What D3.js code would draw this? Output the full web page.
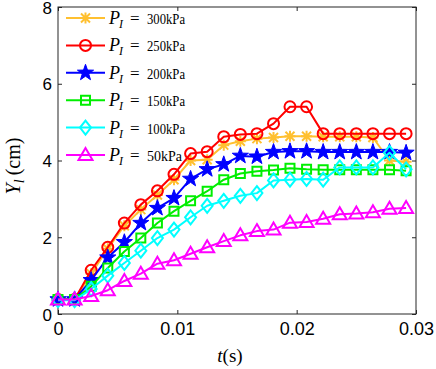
<!DOCTYPE html>
<html><head><meta charset="utf-8">
<script src="https://cdn.jsdelivr.net/npm/d3@7"></script>
<style>body{margin:0;background:#fff}svg{display:block}</style>
</head><body>
<svg id="c" width="436" height="369"></svg>
<script>
// ---- data ----
const tValues = [0, 0.00139, 0.00278, 0.00417, 0.00556, 0.00694, 0.00833, 0.00972, 0.01111, 0.0125, 0.01389,
  0.01528, 0.01667, 0.01806, 0.01944, 0.02083, 0.02222, 0.02361, 0.025, 0.02639, 0.02778, 0.02917];
const y300 = [0.38, 0.38, 1.05, 1.70, 2.30, 2.72, 3.10, 3.50, 4.00, 4.02, 4.40, 4.50, 4.57, 4.60, 4.63, 4.63, 4.62, 4.62, 4.62, 4.60, 4.00, 3.97];
const y250 = [0.38, 0.38, 1.14, 1.74, 2.37, 2.85, 3.21, 3.64, 4.18, 4.23, 4.62, 4.68, 4.70, 4.96, 5.40, 5.40, 4.70, 4.70, 4.70, 4.70, 4.70, 4.70];
const y200 = [0.38, 0.38, 0.88, 1.47, 1.87, 2.37, 2.76, 3.02, 3.52, 3.77, 3.90, 4.12, 4.10, 4.22, 4.24, 4.24, 4.22, 4.22, 4.22, 4.22, 4.22, 4.20];
const y150 = [0.38, 0.38, 0.72, 1.20, 1.63, 1.98, 2.37, 2.68, 2.95, 3.20, 3.50, 3.66, 3.72, 3.75, 3.80, 3.77, 3.76, 3.76, 3.76, 3.76, 3.76, 3.73];
const y100 = [0.36, 0.36, 0.65, 1.00, 1.33, 1.65, 1.98, 2.20, 2.52, 2.82, 2.95, 3.08, 3.15, 3.48, 3.50, 3.52, 3.50, 3.82, 3.82, 3.82, 4.20, 3.77];
const y50  = [0.38, 0.38, 0.47, 0.62, 0.86, 1.05, 1.31, 1.40, 1.57, 1.74, 1.90, 2.05, 2.16, 2.20, 2.38, 2.40, 2.48, 2.60, 2.62, 2.65, 2.74, 2.76];
const seriesLabels = ["300kPa", "250kPa", "200kPa", "150kPa", "100kPa", "50kPa"];
const seriesColors = ["#FFC030", "#FF0000", "#0000FF", "#00EE00", "#00FFFF", "#FF00FF"];
const seriesMarkers = ["asterisk", "circle", "star", "square", "diamond", "triangle"];
const xTicks = [0, 0.01, 0.02, 0.03];
const yTicks = [0, 2, 4, 6, 8];

const seriesData = [y300, y250, y200, y150, y100, y50];

const svg = d3.select("#c");
const L = 58, R = 416, T = 7, B = 314;
const x = d3.scaleLinear().domain([0, 0.03]).range([L, R]);
const y = d3.scaleLinear().domain([0, 8]).range([B, T]);

function markerPath(type) {
  switch (type) {
    case "asterisk": {
      const a = 4.5, d = 4.5;
      return `M${-d},${-d}L${d},${d}M${-d},${d}L${d},${-d}M0,${-a - 1}L0,${a + 1}M${-a - 1},0L${a + 1},0`;
    }
    case "circle": return "M-5.5,0A5.5,5.5 0 1,0 5.5,0A5.5,5.5 0 1,0 -5.5,0Z";
    case "square": return "M-4.5,-4.5H4.5V4.5H-4.5Z";
    case "diamond": return "M0,-7L5.5,0L0,7L-5.5,0Z";
    case "triangle": return "M0,-7L7,5L-7,5Z";
    case "star": {
      let p = "";
      for (let i = 0; i < 10; i++) {
        const r = i % 2 === 0 ? 8.5 : 3.4;
        const ang = -Math.PI / 2 + i * Math.PI / 5;
        p += (i === 0 ? "M" : "L") + (r * Math.cos(ang)).toFixed(2) + "," + (r * Math.sin(ang)).toFixed(2);
      }
      return p + "Z";
    }
  }
}

// axes frame
svg.append("rect").attr("x", L).attr("y", T).attr("width", R - L).attr("height", B - T)
  .attr("fill", "none").attr("stroke", "#262626").attr("stroke-width", 1);

// ticks (inward, on all sides)
const tickLen = 4;
const gx = svg.append("g").attr("transform", `translate(0,${B})`)
  .call(d3.axisBottom(x).tickValues(xTicks).tickSizeInner(-tickLen).tickSizeOuter(0).tickPadding(8)
    .tickFormat(d => d === 0 ? "0" : d3.format(".2f")(d)));
const gxt = svg.append("g").attr("transform", `translate(0,${T})`)
  .call(d3.axisTop(x).tickValues(xTicks).tickSizeInner(-tickLen).tickSizeOuter(0).tickFormat(""));
const gy = svg.append("g").attr("transform", `translate(${L},0)`)
  .call(d3.axisLeft(y).tickValues(yTicks).tickSizeInner(-tickLen).tickSizeOuter(0).tickPadding(6).tickFormat(d3.format("d")));
const gyr = svg.append("g").attr("transform", `translate(${R},0)`)
  .call(d3.axisRight(y).tickValues(yTicks).tickSizeInner(-tickLen).tickSizeOuter(0).tickFormat(""));
[gx, gxt, gy, gyr].forEach(g => {
  g.select(".domain").remove();
  g.selectAll(".tick line").attr("stroke", "#262626");
  g.selectAll("text").attr("font-family", "'Liberation Sans', Arial, sans-serif").attr("font-size", 18).attr("fill", "#000");
});
gx.selectAll("text").attr("dy", "0.71em");
gy.selectAll("text").attr("font-size", 17).attr("dy", "0.36em");

// series (drawn in legend order; later on top)
const line = d3.line().x((d, i) => x(tValues[i])).y(d => y(d));
seriesData.forEach((vals, si) => {
  const col = seriesColors[si];
  const g = svg.append("g");
  g.append("path").datum(vals).attr("d", line).attr("fill", "none")
    .attr("stroke", col).attr("stroke-width", 2).attr("stroke-linejoin", "round");
  const isStar = seriesMarkers[si] === "star";
  g.selectAll("path.m").data(vals).join("path").attr("class", "m")
    .attr("transform", (d, i) => `translate(${x(tValues[i])},${y(d)})`)
    .attr("d", markerPath(seriesMarkers[si]))
    .attr("fill", isStar ? col : "none")
    .attr("stroke", col).attr("stroke-width", isStar ? 1 : 2);
});

// legend (no box)
const lg = svg.append("g");
seriesLabels.forEach((lab, si) => {
  const ry = 18 + si * 27.4;
  const col = seriesColors[si];
  lg.append("line").attr("x1", 66).attr("x2", 105).attr("y1", ry).attr("y2", ry)
    .attr("stroke", col).attr("stroke-width", 2);
  const isStar = seriesMarkers[si] === "star";
  lg.append("path").attr("transform", `translate(85.5,${ry})`).attr("d", markerPath(seriesMarkers[si]))
    .attr("fill", isStar ? col : "none").attr("stroke", col).attr("stroke-width", isStar ? 1 : 2);
  const tx = lg.append("text").attr("y", ry + 6).attr("font-family", "'Liberation Serif', 'DejaVu Serif', serif")
    .attr("font-size", 18).attr("fill", "#000");
  tx.append("tspan").attr("x", 109).attr("font-style", "italic").text("P");
  tx.append("tspan").attr("x", 119).attr("dy", 4).attr("font-size", 12).attr("font-style", "italic").text("I");
  tx.append("tspan").attr("x", 130).attr("dy", -4).attr("font-size", 17).text("=");
  tx.append("tspan").attr("x", 147).attr("font-size", 15)
    .attr("textLength", lab.length === 6 ? 38 : 35).attr("lengthAdjust", "spacingAndGlyphs").text(lab);
});

// axis labels
const xl = svg.append("text").attr("x", 230).attr("y", 362).attr("text-anchor", "middle")
  .attr("font-family", "'Liberation Serif', 'DejaVu Serif', serif").attr("font-size", 19).attr("fill", "#000");
xl.append("tspan").attr("font-style", "italic").text("t");
xl.append("tspan").text("(s)");

const yl = svg.append("text").attr("transform", "translate(20,166) rotate(-90)").attr("text-anchor", "middle")
  .attr("font-family", "'Liberation Serif', 'DejaVu Serif', serif").attr("font-size", 20).attr("fill", "#000");
yl.append("tspan").attr("font-style", "italic").text("Y");
yl.append("tspan").attr("font-style", "italic").attr("font-size", 14).attr("dy", 4).text("l");
yl.append("tspan").attr("dy", -4).text("\u2009(cm)");
</script>
</body></html>
